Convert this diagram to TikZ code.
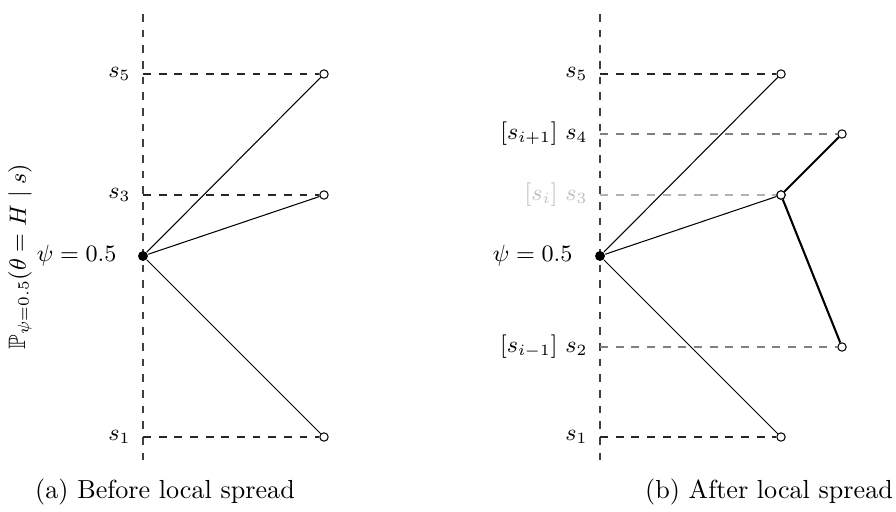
\documentclass[tikz,border=0pt]{standalone}
\usepackage{amsmath,amssymb}
\begin{document}
\begin{tikzpicture}[x=0.383pt,y=-0.383pt,
  axis/.style={dashed,black!75},
  level/.style={dashed,black!85},
  levelhi/.style={dashed,gray,semithick},
  levello/.style={dashed,gray!60},
  open/.style={circle,draw,inner sep=0pt,minimum size=3.2pt,fill=white},
  src/.style={circle,fill,inner sep=0pt,minimum size=3.8pt},
  lab/.style={anchor=east,inner sep=0pt,font=\fontsize{8.6}{10}\selectfont},
  edge/.style={black},
  bedge/.style={black,thick}]
\useasboundingbox (0,0) rectangle (896,512);

% ---------- panel (a)
\coordinate (at) at (143,14);
\coordinate (ab) at (143,468);
\draw[axis] (at) -- (ab);
\coordinate (a5) at (143,74);
\coordinate (a3) at (143,195);
\coordinate (a1) at (143,437);
\node[open] (e5) at (324,74) {};
\node[open] (e3) at (324,195) {};
\node[open] (e1) at (324,437) {};
\draw[level] (a5) -- (e5);
\draw[level] (a3) -- (e3);
\draw[level] (a1) -- (e1);
\node[src] (pa) at (143,256) {};
\draw[edge] (pa) -- (e5);
\draw[edge] (pa) -- (e3);
\draw[edge] (pa) -- (e1);
\node[lab] (la5) at (131,74) {$s_5$};
\node[lab] (la3) at (131,195) {$s_3$};
\node[lab] (la1) at (131,437) {$s_1$};
\node[lab] (lpa) at (117,256) {$\psi = 0.5$};
\node[rotate=90,font=\fontsize{9.1}{11}\selectfont] (ylab) at (20,256.5) {$\mathbb{P}_{\psi=0.5}(\theta = H \mid s)$};
\node (capa) at (165,492) {(a) Before local spread};

% ---------- panel (b)
\coordinate (bt) at (600,14);
\coordinate (bb) at (600,468);
\draw[axis] (bt) -- (bb);
\coordinate (b5) at (600,74);
\coordinate (b4) at (600,134);
\coordinate (b3) at (600,195);
\coordinate (b2) at (600,347);
\coordinate (b1) at (600,437);
\node[open] (f5) at (781,74) {};
\node[open] (f4) at (842,134) {};
\node[open] (f3) at (781,195) {};
\node[open] (f2) at (842,347) {};
\node[open] (f1) at (781,437) {};
\draw[level] (b5) -- (f5);
\draw[levelhi] (b4) -- (f4);
\draw[levello] (b3) -- (f3);
\draw[levelhi] (b2) -- (f2);
\draw[level] (b1) -- (f1);
\node[src] (pb) at (600,256) {};
\draw[edge] (pb) -- (f5);
\draw[edge] (pb) -- (f3);
\draw[edge] (pb) -- (f1);
\draw[bedge] (f3) -- (f4);
\draw[bedge] (f3) -- (f2);
\node[open] at (f3) {};
\node[lab] (lb5) at (588,74) {$s_5$};
\node[lab] (lb4) at (588,134) {$[s_{i+1}]\ s_4$};
\node[lab,text=gray!50] (lb3) at (588,195) {$[s_{i}]\ s_3$};
\node[lab] (lb2) at (588,347) {$[s_{i-1}]\ s_2$};
\node[lab] (lb1) at (588,437) {$s_1$};
\node[lab] (lpb) at (573,256) {$\psi = 0.5$};
\node (capb) at (769,492) {(b) After local spread};
\end{tikzpicture}
\end{document}
